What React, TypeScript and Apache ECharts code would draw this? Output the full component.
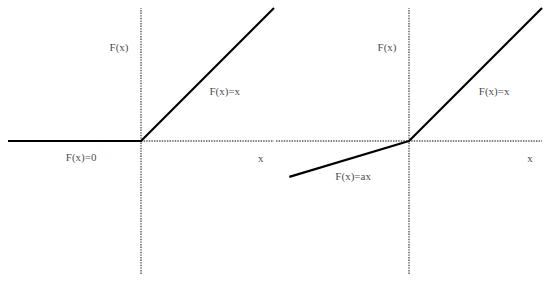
import React, { useEffect, useRef } from "react";
import * as echarts from "echarts";

// ReLU (left panel)
const reluX = [-1, 0, 1];
const reluY = [0, 0, 1];
// Leaky ReLU (right panel)
const leakyX = [-0.9, 0, 1];
const leakyY = [-0.27, 0, 1];

// dotted axes (data coordinates)
const leftVAxisX = [0, 0];
const leftVAxisY = [-1, 1];
const leftHAxisX = [0, 1];
const leftHAxisY = [0, 0];
const rightVAxisX = [0, 0];
const rightVAxisY = [-1, 1];
const rightHAxisX = [-1, 1];
const rightHAxisY = [0, 0];

// text labels
const leftLabels = ["F(x)", "F(x)=x", "F(x)=0", "x"];
const leftLabelX = [-0.165, 0.63, -0.45, 0.9];
const leftLabelY = [0.71, 0.375, -0.12, -0.128];
const rightLabels = ["F(x)", "F(x)=x", "F(x)=ax", "x"];
const rightLabelX = [-0.165, 0.64, -0.42, 0.91];
const rightLabelY = [0.71, 0.375, -0.26, -0.128];

const zip = (xs: number[], ys: number[]) => xs.map((x, i) => [x, ys[i]]);

export default function App() {
  const ref = useRef<HTMLDivElement>(null);
  useEffect(() => {
    if (!ref.current) return;
    const chart = echarts.init(ref.current, null, { renderer: "svg" });
    const dotted = {
      color: "#555",
      width: 1.4,
      type: [1.4, 1.2] as number[],
    };
    const solid = { color: "#000", width: 2.2, type: "solid" as const };
    const axisLine = (gi: number, xs: number[], ys: number[]) => ({
      type: "line",
      xAxisIndex: gi,
      yAxisIndex: gi,
      data: zip(xs, ys),
      symbol: "none",
      silent: true,
      lineStyle: dotted,
      z: 1,
    });
    const fnLine = (gi: number, xs: number[], ys: number[]) => ({
      type: "line",
      xAxisIndex: gi,
      yAxisIndex: gi,
      data: zip(xs, ys),
      symbol: "none",
      silent: true,
      lineStyle: solid,
      z: 3,
    });
    const labels = (gi: number, names: string[], xs: number[], ys: number[]) => ({
      type: "scatter",
      xAxisIndex: gi,
      yAxisIndex: gi,
      symbolSize: 0,
      silent: true,
      data: names.map((n, i) => ({ name: n, value: [xs[i], ys[i]] })),
      label: {
        show: true,
        position: "inside",
        formatter: (p: any) => p.name,
        fontFamily: "'Liberation Serif', 'Times New Roman', serif",
        fontSize: 11,
        color: "#111",
        align: "center",
        verticalAlign: "middle",
      },
      z: 4,
    });
    const axisCommon = { type: "value", min: -1, max: 1, show: false };
    chart.setOption({
      animation: false,
      backgroundColor: "#fff",
      grid: [
        { left: 8, top: 8, width: 266, height: 266 },
        { left: 276, top: 8, width: 266, height: 266 },
      ],
      xAxis: [
        { ...axisCommon, gridIndex: 0 },
        { ...axisCommon, gridIndex: 1 },
      ],
      yAxis: [
        { ...axisCommon, gridIndex: 0 },
        { ...axisCommon, gridIndex: 1 },
      ],
      series: [
        axisLine(0, leftVAxisX, leftVAxisY),
        axisLine(0, leftHAxisX, leftHAxisY),
        axisLine(1, rightVAxisX, rightVAxisY),
        axisLine(1, rightHAxisX, rightHAxisY),
        fnLine(0, reluX, reluY),
        fnLine(1, leakyX, leakyY),
        labels(0, leftLabels, leftLabelX, leftLabelY),
        labels(1, rightLabels, rightLabelX, rightLabelY),
      ],
    });
    return () => chart.dispose();
  }, []);
  return (
    <div
      ref={ref}
      style={{ position: "absolute", left: 0, top: 0, width: 550, height: 281 }}
    />
  );
}
